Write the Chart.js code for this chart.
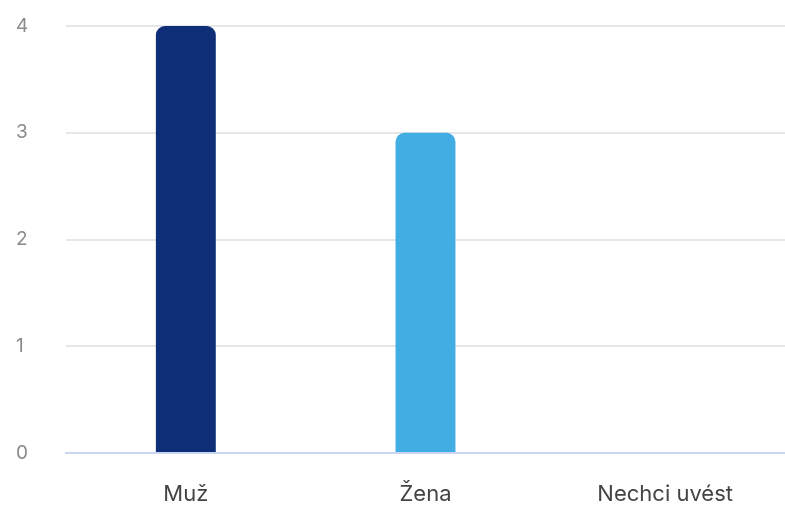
<!DOCTYPE html>
<html>
<head>
<meta charset="utf-8">
<script src="https://cdn.jsdelivr.net/npm/chart.js@4"></script>
<style>
  html, body { margin: 0; padding: 0; background: #ffffff; }
  #wrap { width: 785px; height: 509px; }
</style>
</head>
<body>
<div id="wrap"><canvas id="chart" width="785" height="509"></canvas></div>
<script>
const categories = ["Muž", "Žena", "Nechci uvést"];
const counts = [4, 3, 0];
const barColors = ["#0e2f78", "#42ade2", "#7fc6ea"];
const yTicks = [0, 1, 2, 3, 4];

const ctx = document.getElementById("chart");

new Chart(ctx, {
  type: "bar",
  data: {
    labels: categories,
    datasets: [
      {
        data: counts,
        backgroundColor: barColors,
        borderRadius: { topLeft: 9, topRight: 9, bottomLeft: 0, bottomRight: 0 },
        borderSkipped: false,
        barPercentage: 0.25,
        categoryPercentage: 1,
      },
    ],
  },
  options: {
    responsive: false,
    animation: false,
    layout: {
      padding: { top: 26, right: 0, bottom: 0, left: 16 },
    },
    scales: {
      x: {
        afterFit: (axis) => {
          axis.height = 56;
        },
        grid: { display: false, drawTicks: false },
        border: { display: true, color: "#c9d5f1", width: 2 },
        ticks: {
          padding: 28,
          color: "#444444",
          font: { family: "Inter", size: 22 },
        },
      },
      y: {
        min: 0,
        max: 4,
        afterBuildTicks: (axis) => {
          axis.ticks = yTicks.map((v) => ({ value: v }));
        },
        afterFit: (axis) => {
          axis.width = 50;
        },
        grid: { color: "#e6e6e6", lineWidth: 2, drawTicks: false },
        border: { display: false },
        ticks: {
          padding: 0,
          crossAlign: "far",
          color: "#8a8a8a",
          font: { family: "Inter", size: 19 },
        },
      },
    },
    plugins: {
      legend: { display: false },
      tooltip: { enabled: false },
    },
  },
});
</script>
</body>
</html>
